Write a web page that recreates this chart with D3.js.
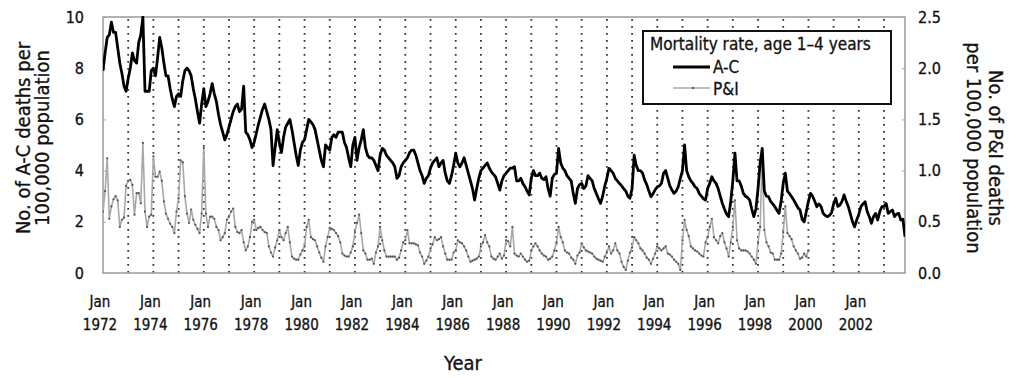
<!DOCTYPE html>
<html>
<head>
<meta charset="utf-8">
<script src="https://cdn.jsdelivr.net/npm/d3@7"></script>
<style>
  body { margin: 0; background: #fff; }
  text { font-family: "DejaVu Sans Condensed", "DejaVu Sans", sans-serif; fill: #111;
         stroke: #111; stroke-width: 0.3px; }
</style>
</head>
<body>
<script>
// monthly series, first value = Jan 1972
var startYear = 1972;

// A-C deaths per 100,000 (left axis), Jan 1972 - Nov 2003
var acRate = [
  7.9, 8.6, 9.2, 9.3, 9.8, 9.4, 9.4, 8.8, 8.2, 7.8, 7.3, 7.1,
  7.6, 8.0, 8.6, 8.3, 8.2, 9.0, 9.3, 10.0, 7.1, 7.1, 7.1, 7.9,
  8.0, 7.7, 8.4, 9.2, 8.8, 8.2, 7.7, 7.7, 7.2, 6.8, 6.5, 6.9,
  7.0, 6.9, 7.5, 7.9, 8.0, 7.9, 7.7, 7.2, 6.8, 6.3, 5.85, 6.6,
  7.2, 6.5, 6.7, 7.0, 7.4, 7.0, 6.7, 6.2, 5.8, 5.5, 5.2, 5.4,
  5.7, 6.0, 6.3, 6.5, 6.6, 6.3, 6.4, 7.3, 5.5, 5.4, 5.2, 4.9,
  5.1, 5.45, 5.8, 6.1, 6.4, 6.6, 6.3, 6.0, 5.6, 4.2, 4.9, 5.6,
  5.1, 4.7, 5.3, 5.7, 5.85, 6.0, 5.6, 5.1, 4.6, 4.2, 4.8, 5.1,
  5.2, 5.6, 6.0, 5.9, 5.8, 5.6, 5.2, 4.8, 4.4, 4.15, 5.0, 4.9,
  4.8, 5.3, 5.4, 5.3, 5.5, 5.5, 5.5, 5.1, 4.9, 4.5, 4.15, 5.0,
  5.3, 4.4, 4.9, 5.2, 5.6, 4.9, 4.6, 4.5, 4.5, 4.4, 4.2, 4.0,
  4.6, 4.87, 4.8, 4.6, 4.5, 4.4, 4.3, 4.15, 3.7, 3.8, 4.15, 4.3,
  4.4, 4.5, 4.7, 4.8, 4.8, 4.6, 4.3, 4.0, 3.8, 3.5, 3.7, 3.8,
  4.1, 4.3, 4.4, 4.5, 4.15, 4.3, 4.4, 3.9, 3.6, 3.5, 3.8, 4.2,
  4.68, 4.3, 4.15, 4.3, 4.5, 4.2, 3.9, 3.6, 3.3, 2.85, 3.3, 3.7,
  4.0, 4.1, 4.2, 4.3, 4.1, 3.95, 3.85, 3.75, 3.5, 3.24, 3.6, 3.8,
  3.9, 4.0, 4.1, 4.1, 4.15, 3.6, 3.6, 3.7, 3.5, 3.37, 3.2, 3.05,
  3.7, 4.0, 3.8, 3.8, 3.9, 3.7, 3.65, 3.76, 3.3, 3.0, 3.7, 3.85,
  3.9, 4.87, 4.3, 4.1, 4.0, 3.8, 3.7, 3.6, 3.1, 2.72, 3.3, 3.45,
  3.5, 3.3, 3.4, 3.8, 3.7, 3.6, 3.3, 3.1, 2.9, 2.72, 3.0, 3.4,
  3.7, 4.09, 4.0, 3.9, 3.7, 3.6, 3.5, 3.4, 3.3, 3.2, 3.0, 2.92,
  3.3, 4.6, 4.2, 4.0, 4.0, 3.9, 3.63, 3.45, 3.2, 2.98, 3.1, 3.25,
  3.37, 3.4, 3.5, 3.9, 4.0, 3.7, 3.4, 3.24, 3.11, 3.2, 3.37, 3.7,
  4.0, 5.0, 4.0, 3.76, 3.6, 3.5, 3.37, 3.3, 3.1, 3.0, 2.9, 2.85,
  3.3, 3.5, 3.76, 3.6, 3.5, 3.3, 3.0, 2.72, 2.5, 2.3, 2.2, 2.8,
  3.6, 4.68, 3.6, 3.6, 3.4, 3.11, 3.0, 2.95, 2.85, 2.5, 2.2, 2.5,
  3.3, 4.3, 4.87, 3.2, 3.0, 2.98, 2.8, 2.7, 2.59, 2.45, 2.33, 2.8,
  3.5, 3.9, 3.2, 3.1, 2.98, 2.85, 2.7, 2.55, 2.46, 2.1, 2.0, 2.4,
  2.8, 3.11, 3.0, 2.8, 2.59, 2.7, 2.6, 2.33, 2.25, 2.2, 2.25, 2.35,
  2.7, 2.92, 2.6, 2.65, 2.8, 3.05, 2.8, 2.59, 2.3, 2.0, 1.8, 2.07,
  2.3, 2.59, 2.7, 2.78, 2.4, 2.2, 1.94, 2.2, 2.33, 2.07, 2.4, 2.59,
  2.6, 2.72, 2.33, 2.4, 2.46, 2.2, 2.3, 2.33, 2.07, 2.1, 1.42
];

// P&I deaths per 100,000 (right axis), Jan 1972 - Jan 2000
var piRate = [
  0.6, 0.8, 1.12, 0.53, 0.65, 0.72, 0.75, 0.71, 0.45, 0.52, 0.54, 0.85,
  0.9, 0.91, 0.86, 0.57, 0.78, 0.78, 0.68, 1.27, 0.6, 0.45, 0.55, 0.57,
  1.14, 0.94, 0.94, 0.99, 0.9, 0.7, 0.58, 0.53, 0.48, 0.45, 0.39, 0.6,
  0.73, 1.1, 1.08, 0.75, 0.58, 0.49, 0.62, 0.52, 0.47, 0.43, 0.39, 0.58,
  1.22, 0.58, 0.45, 0.55, 0.55, 0.53, 0.45, 0.42, 0.32, 0.35, 0.39, 0.52,
  0.55, 0.6, 0.63, 0.45, 0.4, 0.39, 0.42, 0.3, 0.22, 0.26, 0.35, 0.5,
  0.52, 0.42, 0.44, 0.45, 0.42, 0.4, 0.39, 0.26, 0.2, 0.16, 0.25, 0.32,
  0.42, 0.35, 0.32, 0.39, 0.45, 0.3, 0.16, 0.14, 0.13, 0.13, 0.18, 0.22,
  0.26, 0.45, 0.52, 0.35, 0.33, 0.32, 0.26, 0.2, 0.15, 0.11, 0.26, 0.35,
  0.44, 0.43, 0.42, 0.39, 0.36, 0.3, 0.19, 0.17, 0.16, 0.16, 0.2, 0.26,
  0.4, 0.49, 0.57, 0.39, 0.22, 0.19, 0.13, 0.13, 0.14, 0.09, 0.2, 0.26,
  0.45, 0.32, 0.22, 0.16, 0.16, 0.16, 0.16, 0.16, 0.13, 0.15, 0.22, 0.3,
  0.32, 0.42, 0.29, 0.29, 0.29, 0.28, 0.27, 0.2, 0.16, 0.09, 0.12, 0.16,
  0.24, 0.28, 0.35, 0.32, 0.33, 0.35, 0.26, 0.19, 0.13, 0.13, 0.13, 0.2,
  0.22, 0.32, 0.3, 0.29, 0.26, 0.22, 0.16, 0.11, 0.12, 0.13, 0.14, 0.16,
  0.26, 0.3, 0.37, 0.3, 0.26, 0.16, 0.14, 0.13, 0.16, 0.19, 0.14, 0.17,
  0.32, 0.31, 0.26, 0.45, 0.19, 0.17, 0.16, 0.19, 0.16, 0.13, 0.11, 0.12,
  0.22, 0.26, 0.29, 0.26, 0.22, 0.19, 0.17, 0.16, 0.13, 0.14, 0.16, 0.22,
  0.3, 0.45, 0.35, 0.3, 0.22, 0.2, 0.19, 0.15, 0.13, 0.09, 0.17, 0.2,
  0.29, 0.25, 0.22, 0.21, 0.2, 0.19, 0.16, 0.14, 0.13, 0.12, 0.11, 0.16,
  0.2, 0.26, 0.19, 0.22, 0.29, 0.22, 0.19, 0.11, 0.06, 0.03, 0.12, 0.2,
  0.25, 0.35, 0.32, 0.29, 0.24, 0.22, 0.19, 0.15, 0.13, 0.09, 0.14, 0.19,
  0.26, 0.24, 0.22, 0.24, 0.26, 0.19, 0.18, 0.16, 0.13, 0.11, 0.09, 0.03,
  0.32, 0.52, 0.42, 0.36, 0.26, 0.24, 0.22, 0.21, 0.19, 0.17, 0.16, 0.3,
  0.35, 0.45, 0.53, 0.35, 0.32, 0.29, 0.36, 0.39, 0.3, 0.24, 0.16, 0.3,
  0.45, 0.71, 0.32, 0.24, 0.22, 0.22, 0.22, 0.21, 0.19, 0.16, 0.13, 0.09,
  0.3, 0.45, 1.14, 0.42, 0.3, 0.26, 0.2, 0.19, 0.13, 0.13, 0.13, 0.19,
  0.4, 0.65, 0.39, 0.36, 0.33, 0.26, 0.22, 0.19, 0.14, 0.15, 0.19, 0.16,
  0.22
];

var labelYears = [1972, 1974, 1976, 1978, 1980, 1982, 1984, 1986, 1988, 1990, 1992, 1994, 1996, 1998, 2000, 2002];
var gridYears = d3.range(1973, 2004);
var leftTicks = [0, 2, 4, 6, 8, 10];
var rightTicks = [0, 0.5, 1.0, 1.5, 2.0, 2.5];
var seriesNames = ["A-C", "P&I"];

var W = 1009, H = 378;
var plot = {left: 103, right: 905, top: 17, bottom: 273};

var svg = d3.select("body").append("svg")
    .attr("width", W)
    .attr("height", H);

var xScale = d3.scaleLinear()
    .domain([0, acRate.length - 1])
    .range([plot.left, plot.right]);

var yLeft = d3.scaleLinear()
    .domain([0, 10])
    .range([plot.bottom, plot.top]);

var yRight = d3.scaleLinear()
    .domain([0, 2.5])
    .range([plot.bottom, plot.top]);

function monthOf(year) { return (year - startYear) * 12; }

svg.append("clipPath").attr("id", "plotclip")
  .append("rect")
    .attr("x", plot.left).attr("y", plot.top - 1)
    .attr("width", plot.right - plot.left).attr("height", plot.bottom - plot.top + 1);

// dotted year lines
svg.append("g")
  .selectAll("line")
  .data(gridYears).enter()
  .append("line")
    .attr("x1", function(d) { return xScale(monthOf(d)); })
    .attr("x2", function(d) { return xScale(monthOf(d)); })
    .attr("y1", plot.top + 2)
    .attr("y2", plot.bottom)
    .attr("stroke", "#333")
    .attr("stroke-width", 1.8)
    .attr("stroke-dasharray", "1.8,5.2");

// frame
svg.append("rect")
    .attr("x", plot.left).attr("y", plot.top)
    .attr("width", plot.right - plot.left)
    .attr("height", plot.bottom - plot.top)
    .attr("fill", "none")
    .attr("stroke", "#9a9a9a")
    .attr("stroke-width", 1.5);

// y axes
var leftAxis = svg.append("g")
    .attr("transform", "translate(" + plot.left + ",0)")
    .call(d3.axisLeft(yLeft).tickValues(leftTicks).tickSize(-3).tickPadding(19)
      .tickFormat(d3.format("d")));

var rightAxis = svg.append("g")
    .attr("transform", "translate(" + plot.right + ",0)")
    .call(d3.axisRight(yRight).tickValues(rightTicks).tickSize(-3).tickPadding(13)
      .tickFormat(d3.format(".1f")));

[leftAxis, rightAxis].forEach(function(ax) {
  ax.select(".domain").remove();
  ax.selectAll(".tick line").attr("stroke", "#aaa");
  ax.selectAll(".tick text")
    .style("font-family", "\"DejaVu Sans Condensed\", \"DejaVu Sans\", sans-serif")
    .style("font-size", "16px")
    .attr("fill", "#111");
});

// x labels: "Jan" over the year
var xl = svg.append("g")
  .selectAll("text")
  .data(labelYears).enter()
  .append("text")
    .attr("text-anchor", "middle")
    .style("font-size", "15px");
xl.append("tspan")
    .attr("x", function(d) { return xScale(monthOf(d)) - 3; })
    .attr("y", 307)
    .text("Jan");
xl.append("tspan")
    .attr("x", function(d) { return xScale(monthOf(d)) - 3; })
    .attr("y", 330)
    .text(function(d) { return d; });

// lines
var lineAC = d3.line()
    .x(function(d, i) { return xScale(i); })
    .y(function(d) { return yLeft(d); });

var linePI = d3.line()
    .x(function(d, i) { return xScale(i); })
    .y(function(d) { return yRight(d); });

var marks = svg.append("g").attr("clip-path", "url(#plotclip)");

marks.append("path")
    .datum(piRate)
    .attr("d", linePI)
    .attr("fill", "none")
    .attr("stroke", "#a8a8a8")
    .attr("stroke-width", 1.6)
    .attr("stroke-linejoin", "round");

marks.append("g")
  .selectAll("circle")
  .data(piRate).enter()
  .append("circle")
    .attr("cx", function(d, i) { return xScale(i); })
    .attr("cy", function(d) { return yRight(d); })
    .attr("r", 1.1)
    .attr("fill", "#555");

marks.append("path")
    .datum(acRate)
    .attr("d", lineAC)
    .attr("fill", "none")
    .attr("stroke", "#000")
    .attr("stroke-width", 2.8)
    .attr("stroke-linejoin", "round");

// legend
var lg = svg.append("g").attr("transform", "translate(643,31)");
lg.append("rect")
    .attr("width", 248).attr("height", 73)
    .attr("fill", "#fff")
    .attr("stroke", "#111")
    .attr("stroke-width", 2);
lg.append("text")
    .attr("x", 7).attr("y", 19)
    .style("font-size", "17px")
    .text("Mortality rate, age 1\u20134 years");
lg.append("line")
    .attr("x1", 30).attr("x2", 67).attr("y1", 36).attr("y2", 36)
    .attr("stroke", "#000").attr("stroke-width", 2.8);
lg.append("line")
    .attr("x1", 30).attr("x2", 67).attr("y1", 57).attr("y2", 57)
    .attr("stroke", "#a8a8a8").attr("stroke-width", 1.6);
lg.append("circle")
    .attr("cx", 50).attr("cy", 57).attr("r", 1.2).attr("fill", "#555");
lg.selectAll(".lgtext")
  .data(seriesNames).enter()
  .append("text")
    .attr("class", "lgtext")
    .attr("x", 70)
    .attr("y", function(d, i) { return 42 + i * 22; })
    .style("font-size", "17px")
    .text(function(d) { return d; });

// axis titles
var leftTitle = svg.append("text")
    .attr("transform", "translate(30,138) rotate(-90)")
    .attr("text-anchor", "middle")
    .style("font-size", "20px");
leftTitle.append("tspan").attr("x", 0).attr("y", 0).text("No. of A-C deaths per");
leftTitle.append("tspan").attr("x", 0).attr("y", 19).text("100,000 population");

var rightTitle = svg.append("text")
    .attr("transform", "translate(989,148) rotate(90)")
    .attr("text-anchor", "middle")
    .style("font-size", "20px");
rightTitle.append("tspan").attr("x", 0).attr("y", 0).text("No. of P&I deaths");
rightTitle.append("tspan").attr("x", 0).attr("y", 22).text("per 100,000 population");

svg.append("text")
    .attr("x", 463).attr("y", 370)
    .attr("text-anchor", "middle")
    .style("font-size", "20px")
    .text("Year");
</script>
</body>
</html>
